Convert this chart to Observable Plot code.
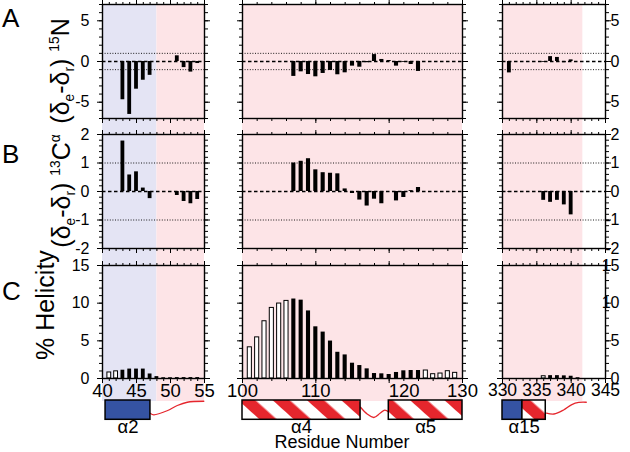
<!DOCTYPE html>
<html>
<head>
<meta charset="utf-8">
<script src="https://cdn.jsdelivr.net/npm/d3@7"></script>
<script src="https://cdn.jsdelivr.net/npm/@observablehq/plot@0.6"></script>
<style>
  html, body { margin:0; padding:0; background:#fff; }
  #chart { position:relative; width:630px; height:452px; overflow:hidden; font-family:"Liberation Sans", Arial, Helvetica, sans-serif; color:#000; }
  #chart svg { position:absolute; left:0; top:0; background:transparent !important; }
  .txt { position:absolute; white-space:nowrap; line-height:1; }
  .letter { font-size:26px; }
  .ytitle { font-size:25px; transform:translate(-50%,-50%) rotate(-90deg); }
  .ytitle sub, .ytitle sup { font-size:0.55em; line-height:0; position:relative; vertical-align:baseline; }
  .ytitle sub { top:0.35em; }
  .ytitle sup { top:-0.75em; }
  .xtitle { font-size:18px; transform:translate(-50%,0); }
</style>
</head>
<body>
<div id="chart">
  <div class="txt letter" style="left:2px;top:5px">A</div>
  <div class="txt letter" style="left:2px;top:141px">B</div>
  <div class="txt letter" style="left:2px;top:278px">C</div>
  <div class="txt ytitle" style="left:60px;top:71px">(δ<sub>e</sub>-δ<sub>r</sub>) <sup>15</sup>N</div>
  <div class="txt ytitle" style="left:61px;top:191px">(δ<sub>e</sub>-δ<sub>r</sub>) <sup>13</sup>C<sup>α</sup></div>
  <div class="txt ytitle" style="left:45px;top:305px">% Helicity</div>
  <div class="txt xtitle" style="left:342px;top:433px">Residue Number</div>
</div>
<script>
// ================= DATA =================
// Column 1 : residues 40–55
const resN1   = [43, 44, 45, 46, 47, 51, 52, 53, 54];
const valN1   = [-4.7, -6.5, -3.4, -2.3, -1.7, 0.7, -0.75, -1.3, -0.25];
const resCa1  = [43, 44, 45, 46, 47, 51, 52, 53, 54];
const valCa1  = [1.77, 0.58, 0.69, 0.12, -0.25, -0.14, -0.35, -0.43, -0.28];
const resHel1 = [41, 42, 43, 44, 45, 46, 47, 48, 49, 50, 51, 52, 53, 54];
const valHel1 = [0.8, 0.95, 1.1, 1.25, 1.25, 1.25, 0.6, 0.25, 0.1, 0.1, 0.12, 0.12, 0.12, 0.12];
const openHel1 = [41, 42];

// Column 2 : residues 100–130
const resN2   = [107, 108, 109, 110, 111, 112, 113, 114, 115, 116, 117, 118, 119, 120, 121, 122, 123, 124];
const valN2   = [-1.83, -1.27, -1.6, -1.88, -1.47, -1.1, -1.63, -1.39, -0.57, -0.7, -0.15, 0.85, 0.25, 0.12, -0.57, -0.1, -0.37, -1.22];
const resCa2  = [107, 108, 109, 110, 111, 112, 113, 114, 115, 116, 117, 118, 119, 121, 122, 123, 124];
const valCa2  = [1.0, 1.06, 1.15, 0.76, 0.66, 0.64, 0.62, 0.09, -0.07, -0.3, -0.51, -0.27, -0.43, -0.33, -0.21, 0.03, 0.14];
const resHel2 = [101, 102, 103, 104, 105, 106, 107, 108, 109, 110, 111, 112, 113, 114, 115,
                 116, 117, 118, 119, 120, 121, 122, 123, 124, 125, 126, 127, 128, 129];
const valHel2 = [4.14, 5.46, 7.6, 9.37, 9.95, 10.3, 10.55, 10.4, 8.97, 6.86, 6.16, 4.97, 3.48, 3.13, 2.03,
                 1.72, 1.28, 0.66, 0.62, 0.53, 0.8, 1.02, 1.06, 1.06, 1.06, 0.57, 0.66, 0.97, 0.75];
const openHel2 = [101, 102, 103, 104, 105, 106, 125, 126, 127, 128, 129];

// Column 3 : residues 330–345
const resN3   = [331, 336, 337, 338, 339, 340];
const valN3   = [-1.4, -0.1, 0.6, 0.5, -0.15, 0.2];
const resCa3  = [331, 336, 337, 338, 339, 340];
const valCa3  = [-0.02, -0.31, -0.38, -0.31, -0.47, -0.82];
const resHel3 = [336, 337, 338, 339, 340, 341];
const valHel3 = [0.3, 0.38, 0.38, 0.35, 0.3, 0.1];
const openHel3 = [336];

// Tick labels
const xTicks1 = [40, 45, 50, 55];
const xTicks2 = [100, 110, 120, 130];
const xTicks3 = [330, 335, 340, 345];
const yTicksN   = [-5, 0, 5];
const yTicksCa  = [-2, -1, 0, 1, 2];
const yTicksHel = [0, 5, 10, 15];
const zeroLine = [0];
const dottedLines = [-1, 1];

// Shaded background regions
const bandCol   = [0, 0, 1, 2];
const bandStart = [40, 48, 100, 330];
const bandEnd   = [48, 55, 130, 341.7];
const bandKind  = ["helix", "loop", "loop", "loop"];

// Secondary structure
const helixName  = ["α2", "α4", "α5", "α15", "α15"];
const helixCol   = [0, 1, 1, 2, 2];
const helixStart = [40.45, 100, 119.95, 330, 332.9];
const helixEnd   = [47.05, 116.1, 130, 332.9, 336.3];
const helixFill  = ["solid", "striped", "striped", "solid", "striped"];
const loop1X = [47.06, 47.54, 49.5, 51.0, 52.46, 54.9];
const loop1Y = [0.33, 0.26, 0.47, 0.74, 0.91, 0.96];
const loop2X = [116.1, 117.0, 117.9, 118.8, 119.4, 119.96];
const loop2Y = [0.65, 0.3, 0.12, 0.35, 0.5, 0.4];
const loop3X = [336.4, 337.5, 338.9, 340.1, 341.1, 342.2];
const loop3Y = [0.35, 0.3, 0.51, 0.79, 0.9, 0.91];

// ================= LAYOUT / STYLE =================
const W = 630, H = 452;
const FONT = '"Liberation Sans", Arial, Helvetica, sans-serif';
const RED = "#e5262d", BLUE = "#3553a3";
const BAND_COLOR = {helix: "#e4e4f4", loop: "#fde4e7"};
const BW = 0.28;

const cols = [
  {domain: [40, 55],   px: [102, 204], ticks: xTicks1, minor: 1},
  {domain: [100, 130], px: [242, 462], ticks: xTicks2, minor: 2},
  {domain: [330, 345], px: [502, 605], ticks: xTicks3, minor: 1}
];
const rows = [
  {domain: [-7, 7], px: [4, 118],   ticks: yTicksN,   minor: 1,   refs: true},
  {domain: [-2, 2], px: [134, 248], ticks: yTicksCa,  minor: 0.2, refs: true},
  {domain: [0, 15], px: [265, 378], ticks: yTicksHel, minor: 1,   refs: false}
];
const series = [
  [[resN1, valN1], [resCa1, valCa1], [resHel1, valHel1, openHel1]],
  [[resN2, valN2], [resCa2, valCa2], [resHel2, valHel2, openHel2]],
  [[resN3, valN3], [resCa3, valCa3], [resHel3, valHel3, openHel3]]
];
const loops = [[loop1X, loop1Y], [loop2X, loop2Y], [loop3X, loop3Y]];

const chart = document.getElementById("chart");
const steps = (a, b, s) => d3.range(Math.round((b - a) / s) + 1).map(i => +(a + i * s).toFixed(4));

function makePlot(col, top, bottom, ydomain, marks) {
  return Plot.plot({
    width: W, height: H,
    marginLeft: col.px[0], marginRight: W - col.px[1],
    marginTop: top, marginBottom: H - bottom,
    x: {domain: col.domain, axis: null},
    y: {domain: ydomain, axis: null},
    style: {background: "transparent", fontFamily: FONT, color: "black", overflow: "visible"},
    marks
  });
}

// ---- backgrounds ----
cols.forEach((col, ci) => {
  const bands = bandCol.map((c, i) => ({c, x1: bandStart[i], x2: bandEnd[i], k: bandKind[i]})).filter(d => d.c === ci);
  const marks = Object.keys(BAND_COLOR).map(k =>
    Plot.rect(bands.filter(d => d.k === k), {x1: "x1", x2: "x2", y1: () => 0, y2: () => 1, fill: BAND_COLOR[k]}));
  chart.appendChild(makePlot(col, 4, 401, [0, 1], marks));
});

// ---- helix diagrams ----
cols.forEach((col, ci) => {
  const boxes = helixName.map((n, i) => ({n, c: helixCol[i], x1: helixStart[i], x2: helixEnd[i], f: helixFill[i]})).filter(d => d.c === ci);
  const names = [...new Set(boxes.map(d => d.n))];
  const labels = names.map(n => {
    const b = boxes.filter(d => d.n === n);
    return {n, x: (d3.min(b, d => d.x1) + d3.max(b, d => d.x2)) / 2};
  });
  const [lx, ly] = loops[ci];
  const wave = lx.map((x, i) => ({x, y: ly[i]}));
  const pid = "stripes" + ci;
  const svg = makePlot(col, 400, 419.3, [0, 1], [
    Plot.line(wave, {x: "x", y: "y", stroke: RED, strokeWidth: 1.3, curve: "catmull-rom"}),
    Plot.rect(boxes.filter(d => d.f === "solid"), {x1: "x1", x2: "x2", y1: () => 0, y2: () => 1, fill: BLUE, stroke: "black", strokeWidth: 1.5}),
    Plot.rect(boxes.filter(d => d.f === "striped"), {x1: "x1", x2: "x2", y1: () => 0, y2: () => 1, fill: `url(#${pid})`, stroke: "black", strokeWidth: 1.5}),
    Plot.text(labels, {x: "x", y: () => 0, text: "n", dy: 7, lineAnchor: "middle", fontSize: 18.5, fill: "black"})
  ]);
  const defs = d3.select(svg).insert("defs", ":first-child");
  const p = defs.append("pattern").attr("id", pid).attr("patternUnits", "userSpaceOnUse")
    .attr("width", 23).attr("height", 23).attr("patternTransform", "rotate(-48)");
  p.append("rect").attr("width", 23).attr("height", 23).attr("fill", "white");
  p.append("rect").attr("width", 11.5).attr("height", 23).attr("fill", RED);
  chart.appendChild(svg);
});

// ---- data panels ----
cols.forEach((col, ci) => {
  rows.forEach((row, ri) => {
    const [res, val, open] = series[ci][ri];
    const openSet = new Set(open || []);
    const data = res.map((r, i) => ({r, v: val[i], open: openSet.has(r)}));
    const marks = [];
    if (row.refs) {
      marks.push(Plot.ruleY(dottedLines, {stroke: "black", strokeWidth: 0.9, strokeDasharray: "1,1.6"}));
      marks.push(Plot.ruleY(zeroLine, {stroke: "black", strokeWidth: 1.3, strokeDasharray: "3.5,2.5"}));
    }
    marks.push(Plot.rect(data.filter(d => !d.open), {x1: d => d.r - BW, x2: d => d.r + BW, y1: () => 0, y2: "v", fill: "black"}));
    marks.push(Plot.rect(data.filter(d => d.open), {x1: d => d.r - BW, x2: d => d.r + BW, y1: () => 0, y2: "v", fill: "white", stroke: "black", strokeWidth: 1}));
    marks.push(Plot.frame({stroke: "black", strokeWidth: 1.4}));
    const xm = steps(col.domain[0], col.domain[1], col.minor);
    const ym = steps(row.domain[0], row.domain[1], row.minor);
    const tk = {fill: "none", tickFormat: () => "", label: null, strokeWidth: 1};
    for (const anchor of ["top", "bottom"]) {
      marks.push(Plot.axisX(xm, {...tk, anchor, tickSize: 3}));
      marks.push(Plot.axisX(col.ticks, {...tk, anchor, tickSize: 5}));
    }
    for (const anchor of ["left", "right"]) {
      marks.push(Plot.axisY(ym, {...tk, anchor, tickSize: 3}));
      marks.push(Plot.axisY(row.ticks, {...tk, anchor, tickSize: 5}));
    }
    const lab = {tickSize: 0, label: null, tickFormat: d => String(d), fill: "black"};
    if (ri === 2) {
      if (ci === 1) {
        marks.push(Plot.axisX(col.ticks.filter(t => t !== 120), {...lab, anchor: "bottom", tickPadding: 5, fontSize: 18.5}));
        marks.push(Plot.axisX(col.ticks.filter(t => t === 120), {...lab, anchor: "bottom", tickPadding: 5, fontSize: 18.5, dx: 15}));
      } else {
        marks.push(Plot.axisX(col.ticks, {...lab, anchor: "bottom", tickPadding: 5, fontSize: ci === 2 ? 17.5 : 18.5}));
      }
    }
    if (ci === 0) marks.push(Plot.axisY(row.ticks, {...lab, anchor: "left", tickPadding: 13, fontSize: 16}));
    if (ci === 2) marks.push(Plot.axisY(row.ticks, {...lab, anchor: "right", tickPadding: 14, fontSize: 16, textAnchor: "end"}));
    chart.appendChild(makePlot(col, row.px[0], row.px[1], row.domain, marks));
  });
});

// keep HTML text on top
chart.querySelectorAll(".txt").forEach(el => chart.appendChild(el));
</script>
</body>
</html>
